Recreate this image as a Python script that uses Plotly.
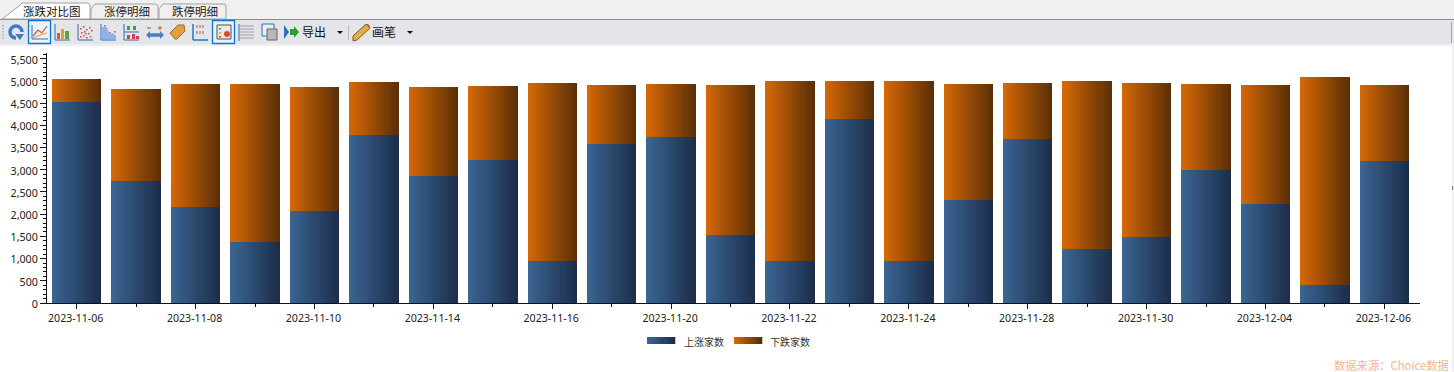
import plotly.graph_objects as go

dates = ["2023-11-06","2023-11-07","2023-11-08","2023-11-09","2023-11-10","2023-11-13","2023-11-14","2023-11-15",
         "2023-11-16","2023-11-17","2023-11-20","2023-11-21","2023-11-22","2023-11-23","2023-11-24","2023-11-27",
         "2023-11-28","2023-11-29","2023-11-30","2023-12-01","2023-12-04","2023-12-05","2023-12-06"]
up_counts = [4535,2755,2170,1385,2080,3790,2870,3230,955,3590,3748,1540,955,4150,935,2330,3700,1225,1495,3005,2240,415,3205]
down_counts = [520,2072,2772,3545,2795,1195,2005,1667,3995,1329,1193,3378,4040,860,4075,2612,1265,3785,3470,1937,2680,4685,1712]
label_dates = dates[::2]
minor_dates = dates[1::2]
y_ticks = list(range(0, 5501, 500))
up_name, down_name = "上涨家数", "下跌家数"
tabs = ["涨跌对比图", "涨停明细", "跌停明细"]

UP_L, UP_R = (58, 100, 146), (28, 46, 74)
DN_L, DN_R = (212, 104, 6), (92, 48, 6)
FONT = "Noto Sans CJK SC, Noto Sans, sans-serif"
TICKFONT = "Noto Sans, Open Sans, sans-serif"
L, R, T, B = 47, 1420, 53, 303
W, H = R - L, B - T
N = 24
BAR = 0.83

def mix(a, b, t):
    return "rgb(%d,%d,%d)" % tuple(round(a[i] + (b[i] - a[i]) * t) for i in range(3))

def fx(p): return (p - L) / W
def fy(p): return (B - p) / H

fig = go.Figure()
for i in range(N):
    t = i / (N - 1)
    w = BAR / N
    off = -BAR / 2 + i * w
    fig.add_bar(x=dates, y=up_counts, base=0, width=w * 1.04, offset=off, marker=dict(color=mix(UP_L, UP_R, t), line_width=0), showlegend=False, hoverinfo="skip" if i else None, name=up_name)
    fig.add_bar(x=dates, y=down_counts, base=up_counts, width=w * 1.04, offset=off, marker=dict(color=mix(DN_L, DN_R, t), line_width=0), showlegend=False, hoverinfo="skip" if i else None, name=down_name)

shapes, ann = [], []
def rect(x0, y0, x1, y1, fill="rgba(0,0,0,0)", line=None, lw=1, layer="above"):
    shapes.append(dict(type="rect", xref="paper", yref="paper", x0=fx(x0), x1=fx(x1), y0=fy(y0), y1=fy(y1), fillcolor=fill, layer=layer,
                       line=dict(color=line, width=lw) if line else dict(width=0)))
def seg(x0, y0, x1, y1, color, lw=1, dash="solid", layer="above"):
    shapes.append(dict(type="line", xref="paper", yref="paper", x0=fx(x0), x1=fx(x1), y0=fy(y0), y1=fy(y1), layer=layer, line=dict(color=color, width=lw, dash=dash)))
def poly(pts, fill, line=None, lw=1):
    d = "M" + " L".join(f"{fx(a):.5f},{fy(b):.5f}" for a, b in pts) + " Z"
    shapes.append(dict(type="path", xref="paper", yref="paper", path=d, fillcolor=fill, layer="above", line=dict(color=line, width=lw) if line else dict(width=0)))
def circ(x0, y0, x1, y1, fill, line=None, lw=1):
    shapes.append(dict(type="circle", xref="paper", yref="paper", x0=fx(x0), x1=fx(x1), y0=fy(y0), y1=fy(y1), fillcolor=fill, layer="above", line=dict(color=line, width=lw) if line else dict(width=0)))
def text(x, y, s, size=11, color="#222", anchor="left", font=FONT):
    ann.append(dict(xref="paper", yref="paper", x=fx(x), y=fy(y), text=s, showarrow=False, xanchor=anchor, yanchor="middle",
                    font=dict(size=size, color=color, family=font)))

# window chrome
rect(0, 0, 1454, 19, "#f0f0f0", layer="below")
rect(0, 19, 1454, 20, "#8a8a8a", layer="below")
rect(0, 20, 1454, 44, "#e3e5e9", layer="below")
rect(0, 44, 1454, 46, "#eeeff1", layer="below")
rect(1452, 46, 1454, 372, "#f0f0f0", layer="below")
rect(1451, 22, 1452, 43, "#a8a8a8", layer="below")
# tabs
poly([(2, 19), (19, 6), (22, 3), (88, 3), (90, 5), (90, 19)], "#ffffff", "#a0a0a0")
poly([(91, 19), (91, 9), (95, 4), (156, 4), (158, 6), (158, 19)], "#f0f0f0", "#a0a0a0")
poly([(159, 19), (159, 9), (163, 4), (225, 4), (226, 6), (226, 19)], "#f0f0f0", "#a0a0a0")
text(52, 11, tabs[0], 11.5, "#111", "center")
text(127, 11, tabs[1], 11.5, "#222", "center")
text(195, 11, tabs[2], 11.5, "#222", "center")
# toolbar grip
for yy in (25, 28, 31, 34, 37):
    rect(2, yy, 4, yy + 1.5, "#b8bbc0")
# refresh
circ(10, 26, 22, 38, "rgba(0,0,0,0)", "#3f78cf", 3.5)
poly([(16, 32), (25, 32), (25, 40), (16, 40)], "#e3e5e9")
poly([(15, 34), (24, 34), (20, 40)], "#3f78cf")
# selected boxes
rect(28.5, 20.5, 50.5, 43.5, "#eaf2fa", "#0a78d4", 1.3)
rect(212.5, 20.5, 234.5, 43.5, "#eaf2fa", "#0a78d4", 1.3)
# line chart icon
seg(32, 25, 32, 39, "#2f6fb5"); seg(32, 39, 48, 39, "#2f6fb5")
for a, b, c, d, col in [(33, 36, 38, 30, "#d8553a"), (38, 30, 42, 33, "#d8553a"), (42, 33, 47, 26, "#d8553a"), (33, 38, 40, 35, "#e0a040"), (40, 35, 47, 33, "#e0a040")]:
    seg(a, b, c, d, col, 1.2)
# bar icon
seg(55, 24, 55, 40, "#2f6fb5"); seg(55, 40, 70, 40, "#2f6fb5")
rect(57, 33, 60, 39, "#d8553a"); rect(61, 29, 64, 39, "#e0a030"); rect(65, 31, 69, 39, "#5aa832")
# scatter icon
seg(78, 24, 78, 40, "#2f6fb5"); seg(78, 40, 93, 40, "#2f6fb5")
for a, b in [(80, 28), (83, 26), (86, 29), (89, 27), (81, 32), (84, 31), (88, 33), (91, 30), (80, 36), (83, 35), (86, 37), (90, 36), (85, 33)]:
    rect(a, b, a + 1.6, b + 1.6, "#d94c4c")
# area icon
seg(101, 24, 101, 40, "#2f6fb5"); seg(101, 40, 116, 40, "#2f6fb5")
poly([(102, 39), (102, 27), (107, 27), (109, 34), (113, 33), (116, 36), (116, 39)], "#8fb0ea")
for a, b in [(104, 25), (109, 32), (114, 31)]:
    rect(a, b, a + 1.6, b + 1.6, "#d94c4c")
# up-down icon
seg(124, 24, 124, 40, "#2f6fb5"); seg(124, 40, 139, 40, "#2f6fb5"); seg(124, 32, 139, 32, "#2f6fb5")
rect(127, 26, 130, 30, "#3ca03c"); rect(133, 26, 136, 30, "#3ca03c"); rect(127, 35, 130, 39, "#d84040"); rect(132, 34, 135, 39, "#d84040"); rect(136, 36, 139, 39, "#d84040")
# range icon
seg(150, 35, 160, 35, "#4a7fc0", 3.5)
poly([(146, 35), (150, 31), (150, 39)], "#4a7fc0"); poly([(164, 35), (160, 31), (160, 39)], "#4a7fc0")
seg(147, 28, 151, 28, "#c86a20", 1.2); seg(158, 28, 162, 28, "#c86a20", 1.2); seg(160, 26, 160, 30, "#c86a20", 1.2)
# tag icon
poly([(170, 33), (178, 25), (184, 25), (185, 31), (177, 39), (175, 39)], "#e0a040", "#a06a20")
# tick icon
seg(193, 24, 193, 40, "#1f78c8", 1.5); seg(193, 40, 208, 40, "#1f78c8", 1.5)
for a in (197, 200, 203):
    seg(a, 25, a, 37, "#c05040", 1, "dot")
# legend-panel icon
rect(217, 25, 231, 39, "#e8e8e8", "#555")
circ(224, 31, 230, 37, "#d84a30")
for yy, col in [(28, "#3ca03c"), (32, "#d8a030"), (36, "#d84040")]:
    rect(219, yy, 221, yy + 1.5, col)
# grid icon
for yy in range(26, 41, 3):
    seg(240, yy, 254, yy, "#9aa0a8")
seg(239, 24, 239, 41, "#2f6fb5")
# data icon
rect(262, 24, 274, 36, "#e8eef6", "#2f6fb5")
rect(267, 29, 277, 40, "#b8b8b8", "#666")
# export
poly([(284, 25), (289, 32), (284, 39)], "#2f6fb5")
poly([(290, 29), (294, 29), (294, 26), (299, 32), (294, 38), (294, 35), (290, 35)], "#2ca02c")
text(300, 32, "导出", 12, "#111")
poly([(337, 31), (343, 31), (340, 34)], "#111")
seg(348.5, 25, 348.5, 40, "#b8bbc0")
# pen
poly([(353, 36), (366, 24), (370, 28), (357, 40), (353, 41)], "#e6ac45", "#7a5a20")
poly([(366, 24), (368, 24), (370, 26), (370, 28)], "#d85a3a")
text(370, 32, "画笔", 12, "#111")
poly([(407, 31), (413, 31), (410, 34)], "#111")
# right-edge marker
rect(1452, 186, 1453, 190, "#777")

# legend
for (x0, cl, cr) in [(647, UP_L, UP_R), (734, DN_L, DN_R)]:
    n = 14
    for i in range(n):
        rect(x0 + 28 * i / n, 337, x0 + 28 * (i + 1) / n + 0.3, 344, mix(cl, cr, i / (n - 1)))
text(681.5, 341, up_name, 10, "#333")
text(768, 341, down_name, 10, "#333")
text(1451, 365, "数据来源：Choice数据", 11.3, "#f9b48c", "right")

fig.update_layout(
    width=1454, height=372, margin=dict(l=L, r=1454 - R, t=T, b=372 - B),
    paper_bgcolor="white", plot_bgcolor="white", barmode="overlay", showlegend=False, bargap=0,
    shapes=shapes, annotations=ann, font=dict(family=TICKFONT, size=10.5, color="#222"),
    xaxis=dict(type="category", categoryorder="array", categoryarray=dates, range=[-0.5, 22.6], showgrid=False, zeroline=False,
               showline=True, linecolor="#111", linewidth=1, ticks="outside", ticklen=5, tickcolor="#111",
               tickmode="array", tickvals=label_dates, ticktext=label_dates, tickangle=0, ticklabelshift=-1,
               tickfont=dict(size=10.6, family=TICKFONT)),
    yaxis=dict(range=[0, 5630], showgrid=False, zeroline=False, showline=True, linecolor="#111", linewidth=1, ticks="outside", ticklen=6,
               tickcolor="#111", tickvals=y_ticks, tickformat=",d", ticklabelshift=1, tickfont=dict(size=10.7, family=TICKFONT),
               minor=dict(dtick=100, ticks="outside", ticklen=3, tickcolor="#111")),
)
fig.update_xaxes(minor=dict(tickvals=minor_dates, ticks="outside", ticklen=3, tickcolor="#111"))
fig.write_html("out.html", config=dict(displayModeBar=False),
               post_script="document.body.style.margin='0';document.body.style.overflow='hidden';")
